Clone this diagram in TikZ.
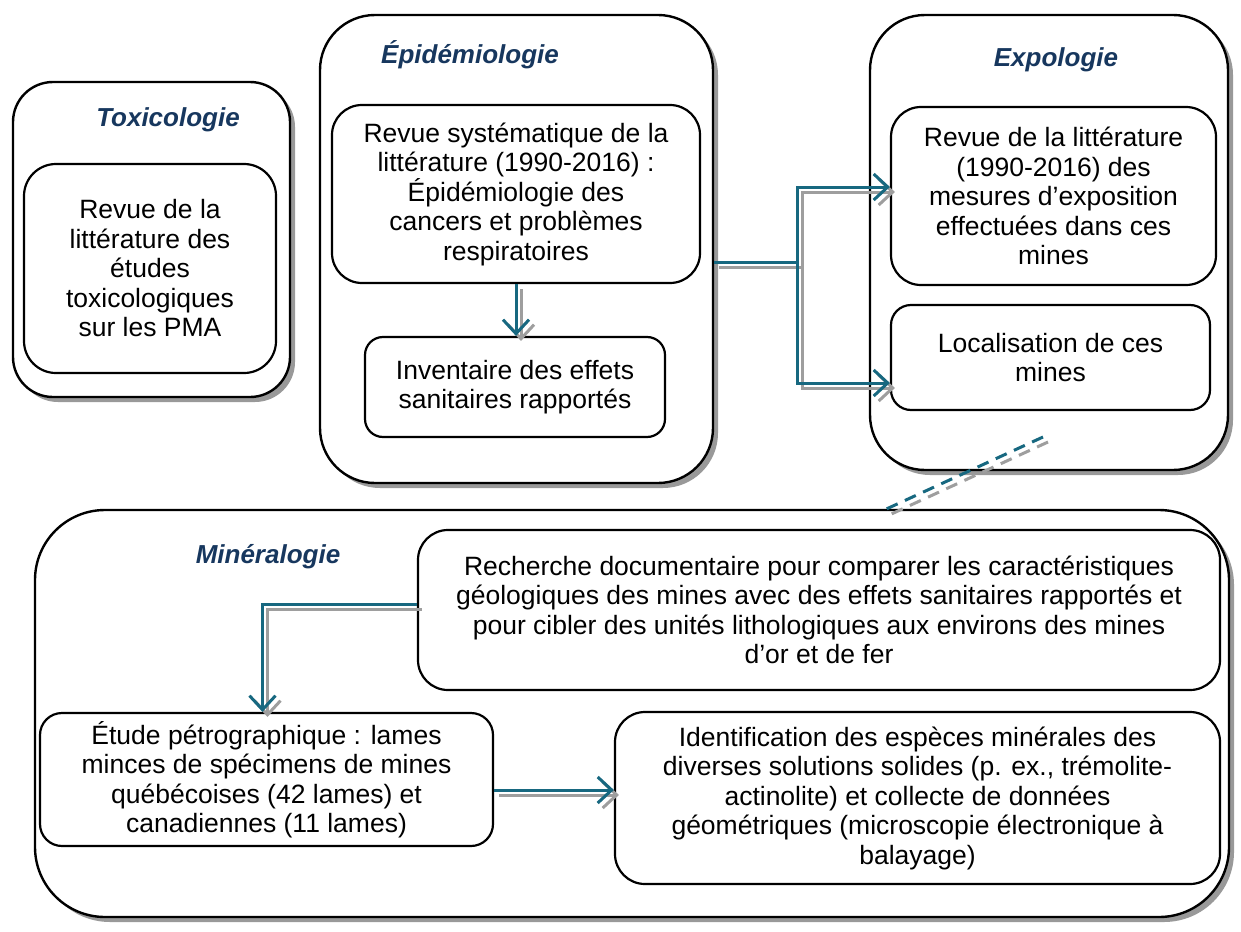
\documentclass[tikz,border=0pt]{standalone}
\usepackage{fontspec}
\setmainfont{Liberation Sans}
\usetikzlibrary{arrows.meta,shadows,calc}
\definecolor{navy}{RGB}{23,55,94}
\definecolor{arrowteal}{RGB}{23,104,128}
\definecolor{shadowgray}{RGB}{158,158,158}
\newcommand{\bodyfs}{\fontsize{26.5}{29.5}\selectfont}
\newcommand{\titlefs}{\fontsize{26}{30}\selectfont\bfseries\itshape}
\begin{document}
\begin{tikzpicture}[x=1pt,y=-1pt,
  outer/.style={draw, line width=2.4pt, fill=white,
    drop shadow={shadow xshift=5pt, shadow yshift=-5pt, fill=black!40, opacity=1}},
  inner/.style={draw, line width=2.2pt, fill=white, align=center, font=\bodyfs, inner sep=0pt},
  title/.style={font=\titlefs, text=navy},
  tl/.style={line width=3pt, draw=arrowteal},
  gl/.style={line width=3pt, draw=shadowgray, transform canvas={xshift=5pt,yshift=-5pt}},
  tip/.style={-{Straight Barb[length=14pt,width=26pt]}},
  dsh/.style={dash pattern=on 12pt off 8pt},
]
\useasboundingbox (0,0) rectangle (1241,931);
\fill[white] (0,0) rectangle (1241,931);

% Toxicologie
\node[outer, rounded corners=40pt, minimum width=277pt, minimum height=315pt] (toxout) at (151.5,239.5) {};
\node[title] (toxt) at (168,120) {Toxicologie};
\node[inner, rounded corners=32pt, minimum width=252pt, minimum height=209pt] (tox1) at (150,268.5)
  {Revue de la\\littérature des\\études\\toxicologiques\\sur les PMA};

% Epidemiologie
\node[outer, rounded corners=55pt, minimum width=393pt, minimum height=468pt] (epiout) at (516.5,249) {};
\node[title] (epit) at (470,55) {Épidémiologie};
\node[inner, rounded corners=30pt, minimum width=368pt, minimum height=178pt] (epi1) at (516,194)
  {Revue systématique de la\\littérature (1990-2016) :\\Épidémiologie des\\cancers et problèmes\\respiratoires};
\node[inner, rounded corners=18pt, minimum width=300pt, minimum height=100pt] (epi2) at (515,387)
  {Inventaire des effets\\sanitaires rapportés};

% Expologie
\node[outer, rounded corners=55pt, minimum width=358pt, minimum height=455pt] (expout) at (1049,242.5) {};
\node[title] (expt) at (1056,60) {Expologie};
\node[inner, rounded corners=30pt, minimum width=325pt, minimum height=178pt] (expo1) at (1053.5,196)
  {Revue de la littérature\\(1990-2016) des\\mesures d’exposition\\effectuées dans ces\\mines};
\node[inner, rounded corners=20pt, minimum width=319pt, minimum height=105pt] (expo2) at (1050.5,357.5)
  {Localisation de ces\\mines};

% Mineralogie
\node[outer, rounded corners=70pt, minimum width=1194pt, minimum height=407pt] (minout) at (632,713.5) {};
\node[title] (mint) at (268,557) {Minéralogie};
\node[inner, rounded corners=30pt, minimum width=802pt, minimum height=160pt] (rech) at (819,610)
  {Recherche documentaire pour comparer les caractéristiques\\géologiques des mines avec des effets sanitaires rapportés et\\pour cibler des unités lithologiques aux environs des mines\\d’or et de fer};
\node[inner, rounded corners=22pt, minimum width=453pt, minimum height=133pt] (etude) at (266.5,779.5)
  {Étude pétrographique : lames\\minces de spécimens de mines\\québécoises (42 lames) et\\canadiennes (11 lames)};
\node[inner, rounded corners=30pt, minimum width=605pt, minimum height=172pt] (ident) at (917.5,798)
  {Identification des espèces minérales des\\diverses solutions solides (p. ex., trémolite-\\actinolite) et collecte de données\\géométriques (microscopie électronique à\\balayage)};

% connectors: Epidemiologie -> Expologie
\coordinate (j) at (797,262);
\coordinate (ja) at ($(expo1.west)+(0,-9)$);
\coordinate (jb) at ($(expo2.west)+(0,25.5)$);
\draw[gl] (epiout.east |- j) -- (j);
\draw[gl,tip] (j) |- (ja);
\draw[gl,tip] (j) |- (jb);
\draw[tl] (epiout.east |- j) -- (j);
\draw[tl,tip] (j) |- (ja);
\draw[tl,tip] (j) |- (jb);

% Epi inner arrow
\draw[gl,tip] (epi1.south) -- (epi1.south |- epi2.north);
\draw[tl,tip] (epi1.south) -- (epi1.south |- epi2.north);

% dashed link Expologie -> Mineralogie
\coordinate (d1) at (1043,437);
\coordinate (d2) at (882,511);
\draw[gl,dsh] (d1) -- (d2);
\draw[tl,dsh] (d1) -- (d2);

% Recherche -> Etude
\coordinate (ra) at ($(rech.west)+(0,-6)$);
\coordinate (rb) at ($(etude.north)+(-4,0)$);
\draw[gl,tip] (ra) -| (rb);
\draw[tl,tip] (ra) -| (rb);

% Etude -> Identification
\coordinate (ea) at ($(etude.east)+(0,10.5)$);
\coordinate (eb) at ($(ident.west)+(0,-8)$);
\draw[gl,tip] (ea) -- (eb);
\draw[tl,tip] (ea) -- (eb);
\end{tikzpicture}
\end{document}
